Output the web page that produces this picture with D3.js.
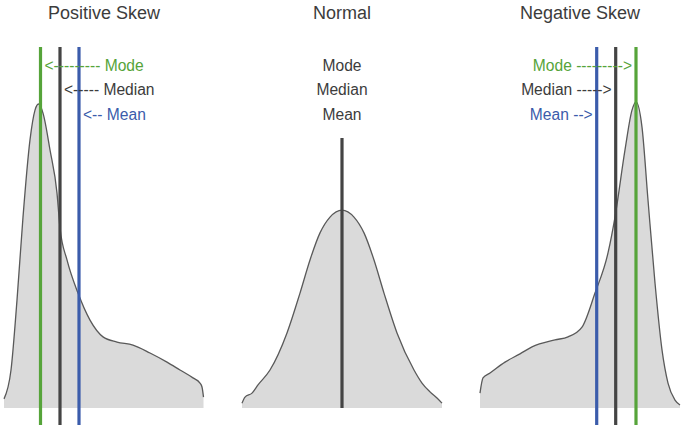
<!DOCTYPE html>
<html>
<head>
<meta charset="utf-8">
<script src="https://cdn.jsdelivr.net/npm/d3@7"></script>
<style>
  html, body { margin: 0; padding: 0; background: #fff; }
  svg { display: block; }
  text { font-family: "Liberation Sans", Arial, sans-serif; }
</style>
</head>
<body>
<div id="chart"></div>
<script>
// ---- Data ----
const panelTitles = ["Positive Skew", "Normal", "Negative Skew"];

// Positive skew density curve (x in 0..200 units, relative density)
const posX = [0, 7, 13, 19, 26, 31, 34.5, 39, 46, 53, 56, 63, 74, 86, 99, 113, 129, 146, 163, 176, 189, 196, 198, 199.5];
const posY = [0.030, 0.125, 0.355, 0.628, 0.882, 0.980, 1.000, 0.970, 0.849, 0.707, 0.592, 0.487, 0.378, 0.289, 0.234, 0.217, 0.207, 0.181, 0.151, 0.125, 0.099, 0.082, 0.069, 0.036];

// Normal density curve
const normX = [0, 3, 10, 16, 28, 45, 58, 68, 78, 88, 100, 112, 122, 132, 142, 155, 172, 180, 188, 195, 200];
const normY = [0.016, 0.036, 0.049, 0.076, 0.125, 0.247, 0.378, 0.487, 0.576, 0.628, 0.651, 0.628, 0.576, 0.487, 0.378, 0.247, 0.125, 0.082, 0.053, 0.033, 0.016];

// Negative skew density curve
const negX = [0, 3, 10, 25, 40, 52, 75, 88, 102, 115, 128, 135, 145, 152, 156, 162, 168, 175, 182, 188, 195, 200];
const negY = [0.049, 0.099, 0.115, 0.151, 0.178, 0.201, 0.224, 0.234, 0.266, 0.378, 0.510, 0.628, 0.849, 0.980, 1.007, 0.924, 0.684, 0.411, 0.191, 0.082, 0.026, 0.010];

// Central tendency positions (same x units)
const posStats = { mode: 36.5, median: 56, mean: 75 };
const normStats = { mode: 100, median: 100, mean: 100 };
const negStats = { mode: 156, median: 135.7, mean: 116.7 };

const posLabels = ["<--------- Mode", "<----- Median", "<-- Mean"];
const normLabels = ["Mode", "Median", "Mean"];
const negLabels = ["Mode --------->", "Median ----->", "Mean -->"];

// ---- Drawing ----
const W = 685, H = 430;
const GREEN = "#56a43a", BLUE = "#3b5cab", DARK = "#444444", TEXT = "#3c3c3c";
const svg = d3.select("#chart").append("svg").attr("width", W).attr("height", H);

const baseY = 408;
const y = d3.scaleLinear().domain([0, 1]).range([baseY, 104]);

const panels = [
  { title: panelTitles[0], xs: posX, ys: posY, stats: posStats, labels: posLabels, left: 4, type: "pos" },
  { title: panelTitles[1], xs: normX, ys: normY, stats: normStats, labels: normLabels, left: 242, type: "norm" },
  { title: panelTitles[2], xs: negX, ys: negY, stats: negStats, labels: negLabels, left: 480, type: "neg" }
];

const labelBase = [70.5, 95, 119.5];
const LABEL_SIZE = 15.6;

panels.forEach(p => {
  const x = d3.scaleLinear().domain([0, 200]).range([p.left, p.left + 200]);
  const pts = p.xs.map((v, i) => [v, p.ys[i]]);
  const g = svg.append("g");

  g.append("path")
    .datum(pts)
    .attr("fill", "#dadada")
    .attr("d", d3.area().x(d => x(d[0])).y0(y(0)).y1(d => y(d[1])).curve(d3.curveMonotoneX));

  g.append("path")
    .datum(pts)
    .attr("fill", "none")
    .attr("stroke", "#595959")
    .attr("stroke-width", 1.3)
    .attr("d", d3.line().x(d => x(d[0])).y(d => y(d[1])).curve(d3.curveMonotoneX));

  // title
  g.append("text")
    .attr("x", x(100)).attr("y", 19)
    .attr("text-anchor", "middle")
    .attr("font-size", 18)
    .attr("fill", TEXT)
    .text(p.title);

  const cols = [GREEN, DARK, BLUE];
  const keys = ["mode", "median", "mean"];

  if (p.type === "norm") {
    g.append("line")
      .attr("x1", x(p.stats.mean)).attr("x2", x(p.stats.mean))
      .attr("y1", 138).attr("y2", baseY)
      .attr("stroke", DARK).attr("stroke-width", 3.2);
    p.labels.forEach((t, i) => {
      g.append("text")
        .attr("x", x(p.stats.mean)).attr("y", labelBase[i])
        .attr("text-anchor", "middle")
        .attr("font-size", LABEL_SIZE)
        .attr("fill", TEXT)
        .text(t);
    });
  } else {
    keys.forEach((k, i) => {
      g.append("line")
        .attr("x1", x(p.stats[k])).attr("x2", x(p.stats[k]))
        .attr("y1", 47).attr("y2", 425)
        .attr("stroke", cols[i]).attr("stroke-width", 3.2);
    });
    keys.forEach((k, i) => {
      const xv = x(p.stats[k]);
      g.append("text")
        .attr("x", p.type === "pos" ? xv + 4 : xv - 4)
        .attr("y", labelBase[i])
        .attr("text-anchor", p.type === "pos" ? "start" : "end")
        .attr("font-size", LABEL_SIZE)
        .attr("fill", i === 1 ? TEXT : cols[i])
        .text(p.labels[i]);
    });
  }
});
</script>
</body>
</html>
